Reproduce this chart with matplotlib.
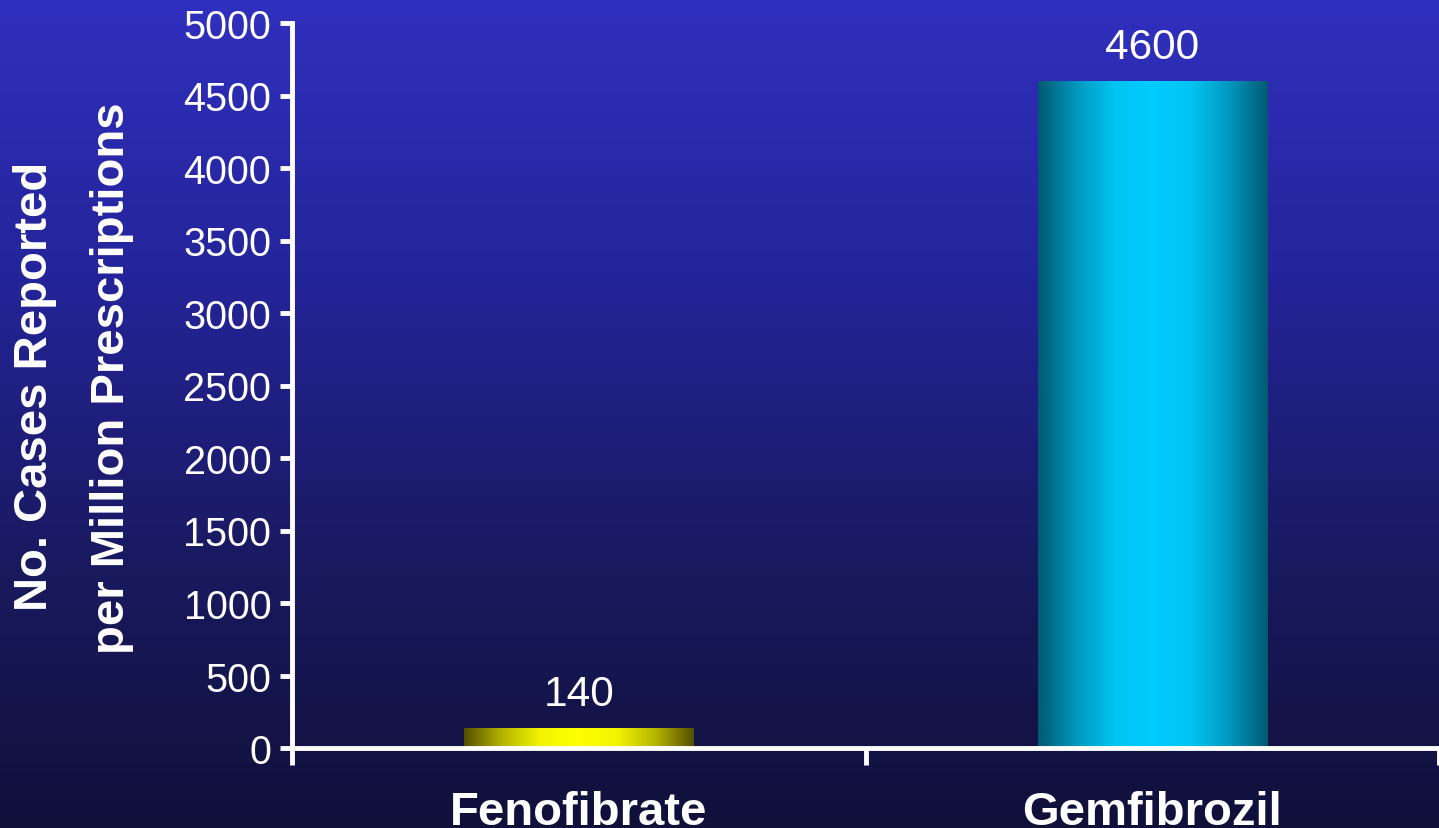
import numpy as np
import matplotlib
matplotlib.use("Agg")
import matplotlib.pyplot as plt
from matplotlib.colors import LinearSegmentedColormap

# ── data ──────────────────────────────────────────────────────────────────────
drugs = ["Fenofibrate", "Gemfibrozil"]
cases = [140, 4600]
y_ticks = [0, 500, 1000, 1500, 2000, 2500, 3000, 3500, 4000, 4500, 5000]
ylabel_lines = ["No. Cases Reported", "per Million Prescriptions"]

plt.rcParams["font.family"] = ["Liberation Sans", "DejaVu Sans"]

W, H, DPI = 1439, 829, 100
fig = plt.figure(figsize=(W / DPI, H / DPI), dpi=DPI)

# background: vertical blue gradient
bg = fig.add_axes([0, 0, 1, 1], zorder=-10)
bg_cmap = LinearSegmentedColormap.from_list(
    "bg", ["#10103a", "#1a1a62", "#24249a", "#3030bf"])
bg.imshow(np.linspace(0, 1, 256).reshape(-1, 1), cmap=bg_cmap, aspect="auto",
          origin="lower", extent=[0, 1, 0, 1])
bg.set_axis_off()

ax = fig.add_axes([292 / W, 1 - 749 / H, 1 - 292 / W, (749 - 24) / H])
ax.patch.set_alpha(0)

bar_cmaps = [
    LinearSegmentedColormap.from_list(
        "yel", ["#555000", "#b5b500", "#f4f400", "#ffff00", "#f4f400", "#b5b500", "#555000"]),
    LinearSegmentedColormap.from_list(
        "cyn", ["#005a72", "#0098bf", "#00c4f2", "#00ccff", "#00c4f2", "#0098bf", "#005a72"]),
]

x = np.arange(len(drugs))
bars = ax.bar(x, cases, width=0.4, color="none", edgecolor="none")
grad = np.linspace(0, 1, 256).reshape(1, -1)
for b, cm in zip(bars, bar_cmaps):
    x0, y0 = b.get_x(), b.get_y()
    im = ax.imshow(grad, cmap=cm, aspect="auto",
                   extent=[x0, x0 + b.get_width(), y0, y0 + b.get_height()],
                   zorder=2)
    im.set_clip_path(b)

for xi, v in zip(x, cases):
    ax.annotate(f"{v}", (xi, v), xytext=(0, 10), textcoords="offset points",
                ha="center", va="bottom", color="white", fontsize=30.5)

ax.set_xlim(-0.5, 1.5)
ax.set_ylim(0, 5000)
ax.set_yticks(y_ticks)
ax.set_xticks([-0.5, 0.5, 1.5])
ax.set_xticklabels([])
ax.set_xticks(x, minor=True)
ax.set_xticklabels(drugs, minor=True, fontsize=34, fontweight="bold", color="white")
ax.tick_params(axis="x", which="minor", length=0, pad=30)
ax.tick_params(axis="x", which="major", direction="out", length=12, width=3.5,
               color="white")
ax.tick_params(axis="y", direction="out", length=9, width=3.5, color="white",
               labelcolor="white", labelsize=28.5, pad=6)

for side in ["top", "right"]:
    ax.spines[side].set_visible(False)
for side in ["left", "bottom"]:
    ax.spines[side].set_color("white")
    ax.spines[side].set_linewidth(3.5)

# two-line y label, placed line by line
for xp, yp, line in zip([35, 112], [386, 378], ylabel_lines):
    fig.text(xp / W, 1 - yp / H, line, rotation=90, ha="center", va="center",
             color="white", fontsize=34, fontweight="bold")

fig.savefig("out.png", dpi=DPI)
